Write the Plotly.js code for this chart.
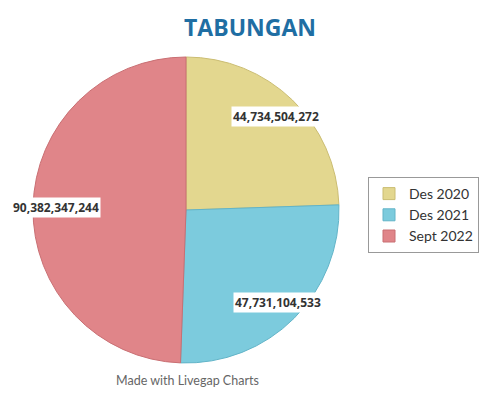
<!DOCTYPE html>
<html><head><meta charset="utf-8">
<script src="https://cdn.plot.ly/plotly-3.0.1.min.js"></script>
<style>body{margin:0;background:#fff}#chart{width:500px;height:400px}</style>
</head><body><div id="chart"></div>
<script>
const labels = ["Des 2020", "Des 2021", "Sept 2022"];
const values = [44734504272, 47731104533, 90382347244];
const colors = ["#e3d78f", "#7ccbdd", "#e08589"];
const edgeColors = ["#cbbd72", "#62b4c8", "#c96f73"];

const W = 500, H = 400;
const cx = 186, cy = 210, R = 153;
const dom = {
  x: [(cx - R) / W, (cx + R) / W],
  y: [(H - cy - R) / H, (H - cy + R) / H]
};

const total = values.reduce((a, b) => a + b, 0);
const fmt = v => v.toLocaleString("en-US");
const annotations = [];
let cum = 0;
const rf = 0.85;
values.forEach((v, i) => {
  const mid = (cum + v / 2) / total * 2 * Math.PI;
  cum += v;
  annotations.push({
    xref: "paper", yref: "paper", xanchor: "center", yanchor: "middle",
    x: (cx + rf * R * Math.sin(mid)) / W,
    y: (H - cy + rf * R * Math.cos(mid)) / H,
    text: fmt(v), showarrow: false,
    bgcolor: "#ffffff", borderpad: 1,
    font: {family: "Open Sans", size: 12, color: "#333333", weight: "bold"}
  });
});
annotations.push({
  xref: "paper", yref: "paper", x: 187 / W, y: (H - 380) / H,
  xanchor: "center", yanchor: "middle",
  text: "Made with Livegap Charts", showarrow: false,
  font: {family: "Lato", size: 12.5, color: "#666666"}
});

Plotly.newPlot("chart", [{
  type: "pie", labels: labels, values: values, sort: false,
  direction: "clockwise", rotation: 0,
  marker: {colors: colors, line: {color: edgeColors, width: 1}},
  textinfo: "none", hoverinfo: "label+value",
  domain: dom
}], {
  width: W, height: H,
  margin: {l: 0, r: 0, t: 0, b: 0},
  paper_bgcolor: "#ffffff",
  title: {text: "<b>TABUNGAN</b>", x: 0.5, xanchor: "center", y: 1 - 28 / H, yanchor: "middle",
    font: {family: "Open Sans", size: 23, color: "#1f6ea3"}},
  showlegend: true,
  legend: {x: 368 / W, y: (H - 177) / H, xanchor: "left", yanchor: "top",
    bordercolor: "#999999", borderwidth: 1, bgcolor: "#ffffff",
    font: {family: "Lato", size: 14, color: "#333333"}, traceorder: "normal",
    itemwidth: 30, tracegroupgap: 0},
  annotations: annotations
}, {displayModeBar: false});
</script></body></html>
